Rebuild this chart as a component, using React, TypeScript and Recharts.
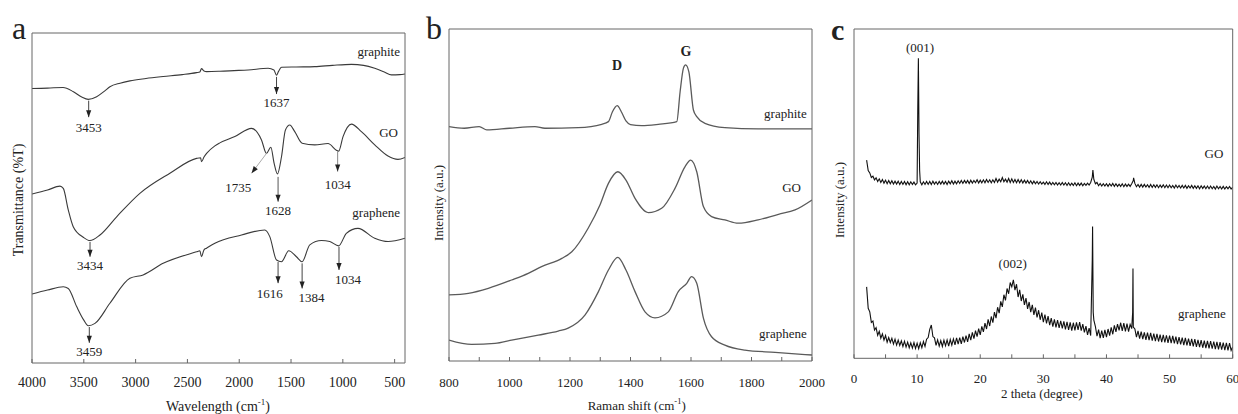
import { LineChart, Line, XAxis, YAxis, ReferenceLine, ReferenceDot } from 'recharts';

type Pt = [number, number];

// (a) FTIR: wavenumber (cm-1) vs transmittance (offset traces, a.u.)
const ftirGraphite: Pt[] = [
  [4000, 83.2], [3850, 83.3], [3700, 83.5], [3600, 82.2], [3520, 80.6], [3457, 79.9], [3376, 80.7],
  [3300, 82.4], [3248, 83.7], [3150, 84.8], [3055, 85.5], [2900, 86.2], [2734, 86.8], [2550, 87.4],
  [2412, 88.0], [2380, 88.2], [2364, 89.2], [2340, 88.5], [2315, 88.3], [2187, 88.4], [2050, 88.6],
  [1914, 88.8], [1721, 89.3], [1665, 88.8], [1640, 87.2], [1622, 88.3], [1592, 89.6], [1450, 89.7],
  [1271, 89.8], [1100, 90.2], [917, 90.5], [800, 90.2], [692, 89.3], [600, 88.2], [531, 87.3],
  [450, 87.4], [400, 87.6],
];
const ftirGO: Pt[] = [
  [4000, 51.2], [3850, 52.4], [3730, 53.6], [3698, 52.9], [3650, 46.4], [3602, 41.3], [3505, 38.1],
  [3441, 37.1], [3344, 38.8], [3183, 44.3], [2959, 51.4], [2669, 57.5], [2412, 62.0], [2373, 62.2],
  [2364, 61.0], [2340, 62.4], [2315, 63.5], [2235, 65.8], [2187, 66.7], [2042, 68.6], [1881, 71.1],
  [1785, 67.6], [1737, 63.5], [1695, 65.4], [1663, 60.5], [1631, 57.3], [1592, 62.5], [1554, 70.6],
  [1512, 72.1], [1464, 70.1], [1393, 66.6], [1271, 66.1], [1143, 66.5], [1062, 64.5], [1040, 64.2],
  [998, 68.6], [917, 72.4], [821, 70.1], [692, 66.1], [564, 62.7], [468, 61.7], [400, 62.3],
];
const ftirGraphene: Pt[] = [
  [4000, 20.9], [3850, 22.1], [3698, 23.1], [3650, 22.6], [3569, 17.1], [3500, 13.0], [3457, 11.3],
  [3392, 12.0], [3248, 18.1], [3055, 25.7], [2927, 26.7], [2734, 30.2], [2412, 33.7], [2380, 34.0],
  [2364, 32.2], [2340, 34.3], [2315, 34.8], [2235, 36.3], [1978, 38.8], [1753, 40.3], [1705, 38.3],
  [1640, 31.2], [1592, 30.7], [1522, 34.0], [1448, 32.2], [1393, 30.7], [1319, 35.8], [1206, 37.1],
  [1126, 36.8], [1040, 35.5], [966, 39.3], [854, 40.8], [692, 37.8], [564, 36.8], [400, 37.8],
];

// peak markers on (a): shaft from -> to, label at
const ftirMarks = [
  { label: '3453', from: [3453, 79.5], to: [3453, 74.5], at: [3453, 70.1], angle: 0, tone: '#444' },
  { label: '1637', from: [1640, 86.7], to: [1640, 81.5], at: [1640, 77.5], angle: 0, tone: '#444' },
  { label: '1735', from: [1737, 63.5], to: [1881, 57.5], at: [2010, 51.9], angle: 37, tone: '#aaa' },
  { label: '1628', from: [1625, 56.4], to: [1625, 48.9], at: [1625, 44.8], angle: 0, tone: '#555' },
  { label: '1034', from: [1050, 64.2], to: [1050, 58.0], at: [1050, 52.7], angle: 0, tone: '#888' },
  { label: '3434', from: [3440, 36.7], to: [3440, 32.2], at: [3440, 28.2], angle: 0, tone: '#444' },
  { label: '1616', from: [1625, 30.6], to: [1625, 24.2], at: [1705, 19.6], angle: 0, tone: '#444' },
  { label: '1384', from: [1393, 30.2], to: [1393, 22.6], at: [1303, 18.6], angle: 0, tone: '#444' },
  { label: '1034', from: [1037, 35.2], to: [1037, 28.2], at: [950, 23.9], angle: 0, tone: '#444' },
  { label: '3459', from: [3447, 10.9], to: [3447, 6.1], at: [3447, 2.1], angle: 0, tone: '#444' },
];

// (b) Raman: shift (cm-1) vs intensity (offset traces, a.u.)
const ramanGraphite: Pt[] = [
  [800, 70.6], [850, 70.1], [900, 70.6], [925, 69.6], [1000, 70.1], [1084, 70.6], [1117, 70.1],
  [1227, 70.3], [1305, 71.3], [1327, 72.1], [1340, 75.0], [1356, 76.9], [1370, 75.0], [1385, 72.3],
  [1400, 71.2], [1437, 70.9], [1492, 71.3], [1553, 72.1], [1564, 81.1], [1575, 88.2], [1582, 89.2],
  [1593, 87.1], [1608, 75.6], [1619, 73.6], [1646, 71.6], [1712, 70.3], [1822, 69.9], [2000, 69.9],
];
const ramanGO: Pt[] = [
  [800, 19.9], [864, 20.4], [930, 21.9], [1007, 24.4], [1062, 26.4], [1106, 28.4], [1173, 30.9],
  [1206, 32.9], [1260, 40.0], [1299, 47.0], [1327, 53.5], [1358, 57.0], [1385, 54.5], [1415, 49.0],
  [1459, 44.7], [1503, 46.0], [1547, 52.0], [1580, 58.5], [1599, 60.5], [1619, 57.0], [1641, 46.5],
  [1668, 43.5], [1712, 42.5], [1756, 41.5], [1822, 42.5], [1889, 44.2], [1944, 45.5], [2000, 48.5],
];
const ramanGraphene: Pt[] = [
  [800, 6.3], [875, 5.0], [952, 5.3], [1007, 6.3], [1095, 7.8], [1161, 9.0], [1194, 9.9], [1250, 13.9],
  [1294, 20.9], [1327, 27.4], [1358, 31.2], [1385, 27.4], [1415, 20.9], [1448, 14.8], [1481, 13.0],
  [1525, 14.8], [1558, 20.9], [1586, 23.4], [1602, 25.4], [1619, 23.4], [1641, 12.9], [1668, 7.3],
  [1712, 4.8], [1778, 3.3], [1878, 2.6], [2000, 1.8],
];

// (c) XRD: 2 theta (deg) vs intensity, read every 0.25 deg from 2 to 60 (8 per row = 2 deg),
// plus the extra points needed for the sharp reflections
const xrdStart = 2;
const xrdStep = 0.25;
const xrdGO: number[] = [
  60.2, 57.0, 56.3, 54.9, 55.3, 54.2, 54.8, 53.7,
  54.5, 53.4, 54.3, 53.2, 54.1, 53.0, 54.0, 53.0,
  53.9, 52.9, 53.8, 52.9, 53.8, 52.8, 53.7, 52.8,
  53.7, 52.7, 53.6, 52.7, 53.6, 52.8, 53.5, 52.7,
  53.2, 80.0, 53.6, 52.7, 53.6, 52.8, 53.7, 52.8,
  53.7, 52.8, 53.8, 52.9, 53.6, 52.8, 53.7, 52.9,
  53.8, 52.9, 53.7, 52.8, 53.8, 53.0, 53.9, 52.9,
  53.8, 53.0, 53.9, 53.1, 54.0, 53.1, 54.0, 53.2,
  54.0, 53.1, 54.1, 53.2, 54.0, 53.3, 54.2, 53.2,
  54.1, 53.3, 54.2, 53.3, 54.3, 53.4, 54.2, 53.3,
  54.2, 53.4, 54.6, 53.5, 54.4, 53.6, 54.9, 53.6,
  54.4, 53.5, 54.6, 53.4, 54.5, 53.4, 54.3, 53.3,
  54.3, 53.3, 54.2, 53.2, 54.1, 53.2, 54.0, 53.1,
  53.9, 53.0, 53.8, 53.0, 53.7, 52.9, 53.6, 52.9,
  53.5, 52.8, 53.6, 52.8, 53.5, 52.7, 53.4, 52.7,
  53.4, 52.6, 53.3, 52.6, 53.4, 52.6, 53.3, 52.5,
  53.3, 52.5, 53.2, 52.5, 53.3, 52.4, 53.2, 52.5,
  53.2, 52.4, 53.1, 52.5, 53.2, 52.6, 53.4, 55.0,
  54.3, 53.0, 53.4, 52.4, 53.1, 52.3, 53.0, 52.3,
  53.0, 52.2, 53.0, 52.3, 53.1, 52.2, 53.0, 52.2,
  52.9, 52.2, 53.0, 52.1, 52.9, 52.2, 52.9, 52.2,
  53.0, 54.0, 53.1, 52.1, 52.8, 52.0, 52.8, 52.0,
  52.8, 52.0, 52.7, 51.9, 52.8, 51.9, 52.7, 51.9,
  52.7, 51.8, 52.6, 51.9, 52.7, 51.8, 52.6, 51.8,
  52.6, 51.8, 52.5, 51.7, 52.6, 51.8, 52.5, 51.7,
  52.5, 51.7, 52.5, 51.6, 52.4, 51.7, 52.5, 51.6,
  52.4, 51.6, 52.4, 51.5, 52.4, 51.6, 52.3, 51.5,
  52.3, 51.5, 52.3, 51.5, 52.2, 51.4, 52.3, 51.5,
  52.2, 51.4, 52.2, 51.4, 52.1, 51.5, 52.2, 51.4,
  52.0,
];
const xrdGOPeaks: Pt[] = [
  [10.1, 75.0], [10.2, 91.1], [10.3, 68.0], [10.4, 57.0], [37.85, 57.2], [44.3, 54.8],
];
const xrdGraphene: number[] = [
  21.7, 15.2, 14.1, 10.9, 11.3, 8.6, 9.3, 7.0,
  8.2, 6.1, 7.4, 5.5, 6.9, 4.9, 6.3, 4.8,
  6.1, 4.3, 5.8, 4.0, 5.5, 3.9, 5.3, 3.6,
  5.2, 3.4, 4.9, 3.2, 4.7, 3.1, 4.8, 3.0,
  4.6, 2.9, 4.7, 3.2, 5.1, 3.6, 5.8, 6.3,
  8.8, 10.1, 6.6, 6.2, 3.9, 5.6, 3.7, 5.4,
  3.6, 5.5, 3.8, 5.6, 3.7, 5.7, 4.0, 5.9,
  4.1, 6.2, 4.3, 6.3, 4.4, 6.6, 4.8, 6.9,
  5.0, 7.4, 5.5, 7.9, 6.0, 8.4, 6.6, 9.0,
  7.1, 9.7, 8.0, 10.7, 8.9, 11.8, 9.8, 12.7,
  10.8, 14.0, 12.2, 15.5, 13.7, 17.3, 15.6, 19.3,
  17.6, 21.2, 19.6, 23.0, 21.7, 23.8, 20.7, 22.5,
  18.6, 20.8, 17.4, 19.4, 16.2, 18.3, 15.0, 17.1,
  14.0, 16.2, 13.2, 15.4, 12.4, 14.6, 11.7, 13.9,
  11.0, 13.3, 10.6, 12.8, 10.1, 12.2, 9.6, 11.8,
  9.4, 11.6, 9.2, 11.4, 9.1, 11.2, 8.8, 11.1,
  8.6, 10.9, 8.4, 10.8, 8.5, 10.9, 8.6, 11.0,
  8.4, 10.4, 7.9, 9.8, 7.1, 9.2, 6.9, 30.0,
  11.6, 9.6, 6.7, 8.7, 6.1, 8.4, 6.2, 8.6,
  6.4, 8.9, 6.9, 9.4, 7.3, 10.0, 8.0, 10.4,
  8.5, 10.8, 8.3, 10.7, 8.2, 10.5, 8.1, 10.3,
  9.0, 9.5, 8.9, 6.4, 8.3, 6.0, 8.1, 5.8,
  7.9, 5.6, 7.8, 5.5, 7.7, 5.4, 7.5, 5.2,
  7.4, 5.1, 7.2, 4.9, 7.1, 4.8, 7.0, 4.7,
  6.9, 4.6, 6.8, 4.5, 6.6, 4.3, 6.4, 4.2,
  6.3, 4.0, 6.2, 3.9, 6.0, 3.8, 5.9, 3.6,
  5.8, 3.5, 5.6, 3.4, 5.5, 3.2, 5.4, 3.1,
  5.3, 3.0, 5.2, 2.9, 5.1, 2.8, 5.0, 2.7,
  4.9, 2.6, 4.8, 2.5, 4.7, 2.4, 4.6, 2.4,
  3.5,
];
const xrdGraphenePeaks: Pt[] = [
  [37.8, 40.0], [37.9, 14.0], [44.15, 14.0], [44.2, 27.3],
];

const ftirTicks = [4000, 3500, 3000, 2500, 2000, 1500, 1000, 500];
const ramanTicks = [800, 900, 1000, 1100, 1200, 1300, 1400, 1500, 1600, 1700, 1800, 1900, 2000];
const xrdTicks = [0, 5, 10, 15, 20, 25, 30, 35, 40, 45, 50, 55, 60];

const serif = "'Liberation Serif', 'Times New Roman', serif";
const frame = '#666';

const rows = (pts: Pt[]) => pts.map(([x, v]) => ({ x, v }));
const xrdRows = (vals: number[], peaks: Pt[]) =>
  rows([...vals.map((v, i): Pt => [xrdStart + i * xrdStep, v]), ...peaks].sort((a, b) => a[0] - b[0]));

const makeTick = (isMajor: (v: number) => boolean, dy: number, size: number) => (props: any) => {
  const { x, y, payload } = props;
  return (
    <g>
      <line x1={x} x2={x} y1={y} y2={y - 4} stroke={frame} strokeWidth={1} />
      {isMajor(payload.value) && (
        <text x={x} y={y + dy} textAnchor="middle" fontSize={size} fontFamily={serif} fill="#222">
          {payload.value}
        </text>
      )}
    </g>
  );
};

// axes with 1px thickness, so the margins below are the plot box minus 1
const boxAxes = (domain: [number, number], reversed: boolean, ticks: number[], tick: any) => [
  <XAxis key="xb" dataKey="x" type="number" domain={domain} reversed={reversed} allowDataOverflow
    ticks={ticks} interval={0} height={1} tickSize={0} tickMargin={0} tickLine={false}
    axisLine={{ stroke: frame }} tick={tick} />,
  <XAxis key="xt" xAxisId="top" orientation="top" type="number" domain={domain} reversed={reversed}
    height={1} tick={false} tickLine={false} axisLine={{ stroke: frame }} />,
  <YAxis key="yl" type="number" domain={[0, 100]} allowDataOverflow width={1} tick={false}
    tickLine={false} axisLine={{ stroke: frame }} />,
  <YAxis key="yr" yAxisId="right" orientation="right" type="number" domain={[0, 100]} width={1}
    tick={false} tickLine={false} axisLine={{ stroke: frame }} />,
];

const T = (p: { x: number; y: number; s?: number; a?: 'start' | 'middle' | 'end'; b?: boolean; children: any }) => (
  <text x={p.x} y={p.y} fontSize={p.s ?? 13} textAnchor={p.a ?? 'middle'} fontWeight={p.b ? 'bold' : 'normal'}
    fontFamily={serif} fill="#222">
    {p.children}
  </text>
);

const YTitle = ({ x, y, s, children }: { x: number; y: number; s: number; children: any }) => (
  <text transform={`translate(${x},${y}) rotate(-90)`} fontSize={s} textAnchor="middle" fontFamily={serif} fill="#222">
    {children}
  </text>
);

export default function App() {
  const ftirLine = { stroke: '#3a3a3a', strokeWidth: 1.1, dot: false, isAnimationActive: false, type: 'monotone' as const };
  const ramanLine = { stroke: '#5a5a5a', strokeWidth: 1.3, dot: false, isAnimationActive: false, type: 'monotone' as const };
  const xrdLine = { stroke: '#111', strokeWidth: 1.1, dot: false, isAnimationActive: false, type: 'linear' as const };

  return (
    <div style={{ position: 'absolute', left: 0, top: 0, width: 1238, height: 414, background: '#fff' }}>
      <div style={{ position: 'absolute', left: 0, top: 0 }}>
        <LineChart width={420} height={414} margin={{ top: 32, right: 14, bottom: 50, left: 31 }}>
          {boxAxes([400, 4000], true, ftirTicks, makeTick(() => true, 23.7, 14))}
          <Line data={rows(ftirGraphite)} dataKey="v" {...ftirLine} />
          <Line data={rows(ftirGO)} dataKey="v" {...ftirLine} />
          <Line data={rows(ftirGraphene)} dataKey="v" {...ftirLine} />
          {ftirMarks.map((m, i) => (
            <ReferenceLine key={`s${i}`} segment={[{ x: m.from[0], y: m.from[1] }, { x: m.to[0], y: m.to[1] }]}
              stroke={m.tone} strokeWidth={1} />
          ))}
          {ftirMarks.map((m, i) => (
            <ReferenceDot key={`h${i}`} x={m.to[0]} y={m.to[1]} r={1}
              shape={(p: any) => (
                <polygon transform={`translate(${p.cx},${p.cy}) rotate(${m.angle})`} points="0,0 -2.6,-7 2.6,-7" fill="#222" />
              )} />
          ))}
          {ftirMarks.map((m, i) => (
            <ReferenceDot key={`l${i}`} x={m.at[0]} y={m.at[1]} r={1}
              shape={(p: any) => (
                <text x={p.cx} y={p.cy} textAnchor="middle" fontSize={13} fontFamily={serif} fill="#222">{m.label}</text>
              )} />
          ))}
        </LineChart>
      </div>

      <div style={{ position: 'absolute', left: 420, top: 0 }}>
        <LineChart width={420} height={414} margin={{ top: 28, right: 27, bottom: 52, left: 28 }}>
          {boxAxes([800, 2000], false, ramanTicks, makeTick((v) => v % 200 === 0, 25.7, 13))}
          <Line data={rows(ramanGraphite)} dataKey="v" {...ramanLine} />
          <Line data={rows(ramanGO)} dataKey="v" {...ramanLine} />
          <Line data={rows(ramanGraphene)} dataKey="v" {...ramanLine} />
        </LineChart>
      </div>

      <div style={{ position: 'absolute', left: 820, top: 0 }}>
        <LineChart width={418} height={414} margin={{ top: 28, right: 4.3, bottom: 54.7, left: 33 }}>
          {boxAxes([0, 60], false, xrdTicks, makeTick((v) => v % 10 === 0, 24.4, 13))}
          <Line data={xrdRows(xrdGO, xrdGOPeaks)} dataKey="v" {...xrdLine} />
          <Line data={xrdRows(xrdGraphene, xrdGraphenePeaks)} dataKey="v" {...xrdLine} />
        </LineChart>
      </div>

      <svg width={1238} height={414} style={{ position: 'absolute', left: 0, top: 0, pointerEvents: 'none' }}>
        {/* panel letters */}
        <T x={12} y={39.3} s={32} a="start">a</T>
        <T x={426} y={39.3} s={32} a="start">b</T>
        <T x={831} y={40} s={30} a="start" b>c</T>

        {/* (a) */}
        <T x={400} y={56} a="end">graphite</T>
        <T x={398} y={136.7} a="end">GO</T>
        <T x={400} y={216.7} a="end">graphene</T>
        <text x={218} y={411} fontSize={14} textAnchor="middle" fontFamily={serif} fill="#222">
          Wavelength (cm<tspan fontSize={9} dy={-6}>-1</tspan><tspan dy={6}>)</tspan>
        </text>
        <YTitle x={23} y={200} s={14}>Transmittance (%T)</YTitle>

        {/* (b) */}
        <T x={617} y={70} s={14} b>D</T>
        <T x={686} y={55.7} s={14} b>G</T>
        <T x={806.7} y={118.3} a="end">graphite</T>
        <T x={801} y={191.7} a="end">GO</T>
        <T x={806.7} y={338.3} a="end">graphene</T>
        <text x={636.7} y={410} fontSize={13} textAnchor="middle" fontFamily={serif} fill="#222">
          Raman shift (cm<tspan fontSize={8.5} dy={-6}>-1</tspan><tspan dy={6}>)</tspan>
        </text>
        <YTitle x={443} y={203} s={13}>Intensity (a.u.)</YTitle>

        {/* (c) */}
        <T x={920} y={52.3}>(001)</T>
        <T x={1012.7} y={267.7}>(002)</T>
        <T x={1223.3} y={158.3} a="end">GO</T>
        <T x={1225.7} y={318.3} a="end">graphene</T>
        <T x={1041.7} y={398.3}>2 theta (degree)</T>
        <YTitle x={844} y={200} s={13}>Intensity (a.u.)</YTitle>
      </svg>
    </div>
  );
}
